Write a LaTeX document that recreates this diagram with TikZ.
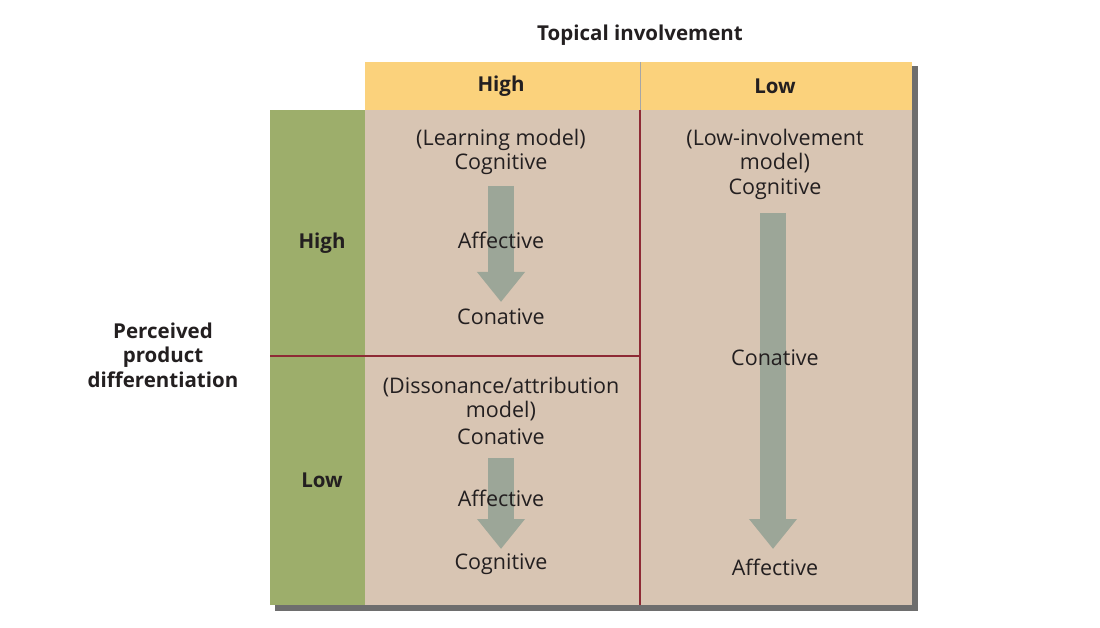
\documentclass[tikz,border=0pt]{standalone}
\usepackage{fontspec}
\setmainfont{Open Sans}
\usetikzlibrary{arrows.meta}
\definecolor{hdr}{HTML}{FBD27C}
\definecolor{grn}{HTML}{9DAE6B}
\definecolor{body}{HTML}{D8C5B3}
\definecolor{rule}{HTML}{8E2A35}
\definecolor{arr}{HTML}{9CA698}
\definecolor{shd}{HTML}{6E6E6E}
\definecolor{txt}{HTML}{231F20}
\tikzset{
  lbl/.style={font=\fontsize{21.5}{24.5}\selectfont, text=txt, align=center, inner sep=0pt},
  blbl/.style={lbl, font=\fontsize{20.5}{24.5}\selectfont\bfseries},
  bigarrow/.style={arr, line width=26pt, -{Triangle[width=46pt,length=30pt]}, shorten <=0pt},
}
\begin{document}
\begin{tikzpicture}[x=1pt,y=-1pt]
\useasboundingbox (0,0) rectangle (1100,628);
% shadow
\fill[shd] (275,605) rectangle (918,611);
\fill[shd] (912,66) rectangle (918,611);
% panels
\fill[hdr] (365,62) rectangle (912,110);
\fill[grn] (270,110) rectangle (365,605);
\fill[body] (365,110) rectangle (912,605);
% rules
\draw[gray!70, line width=0.8pt] (640,62) -- (640,110);
\draw[rule, line width=1.2pt] (640,110) -- (640,605);
\draw[rule, line width=1.2pt] (270,356) -- (640,356);
% title and headers
\node[blbl] (title) at (640,35) {Topical involvement};
\node[blbl] (hhigh) at (501,86) {High};
\node[blbl] (hlow) at (775,86) {Low};
\node[blbl] (rhigh) at (322,243) {High};
\node[blbl] (rlow) at (322,480) {Low};
\node[blbl] (ppd) at (163,355) {Perceived\\product\\differentiation};
% arrows
\coordinate (a1s) at (501,186);
\coordinate (a1e) at (501,302);
\coordinate (a2s) at (501,458);
\coordinate (a2e) at (501,549);
\coordinate (a3s) at (773,213);
\coordinate (a3e) at (773,549);
\draw[bigarrow] (a1s) -- (a1e);
\draw[bigarrow] (a2s) -- (a2e);
\draw[bigarrow] (a3s) -- (a3e);
% cell 1
\node[lbl] (lm) at (501,140) {(Learning model)};
\node[lbl] (c1) at (501,164) {Cognitive};
\node[lbl] (af1) at (501,240) {Affective};
\node[lbl] (co1) at (501,317) {Conative};
% cell 3
\node[lbl] (dm) at (501,399) {(Dissonance/attribution\\model)};
\node[lbl] (co3) at (501,437) {Conative};
\node[lbl] (af3) at (501,498) {Affective};
\node[lbl] (c3) at (501,564) {Cognitive};
% right cell
\node[lbl] (lim) at (775,151) {(Low-involvement\\model)};
\node[lbl] (c2) at (775,189) {Cognitive};
\node[lbl] (co2) at (775,358) {Conative};
\node[lbl] (af2) at (775,567) {Affective};
\end{tikzpicture}
\end{document}
